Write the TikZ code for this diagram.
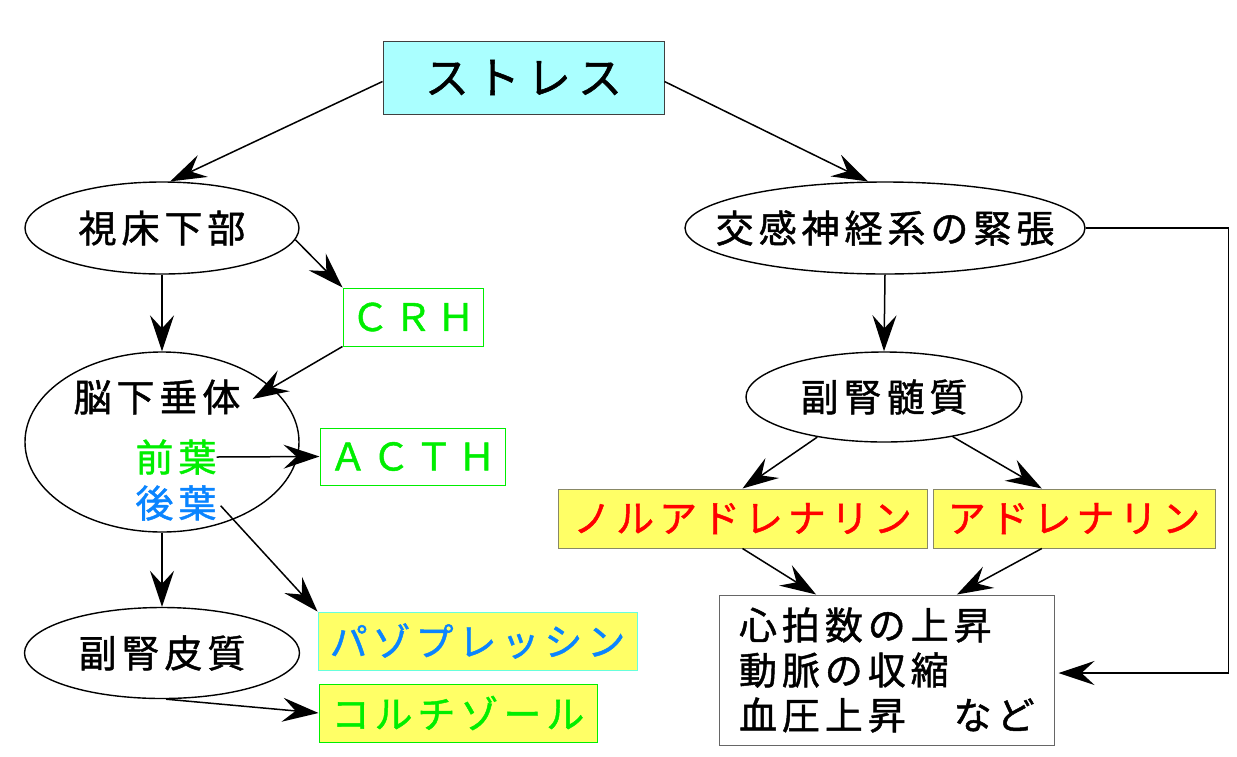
\documentclass[tikz,border=0pt]{standalone}
\usepackage{fontspec}
\usetikzlibrary{arrows.meta,shapes.geometric}
\newfontfamily\jp[LetterSpace=13,FakeBold=1.2]{Noto Sans CJK JP}
\newfontfamily\jpbig[LetterSpace=16,FakeBold=1.2]{Noto Sans CJK JP}
\definecolor{cyanfill}{HTML}{AAFFFF}
\definecolor{yel}{HTML}{FFFF66}
\definecolor{grn}{HTML}{00EE00}
\definecolor{blu}{HTML}{0A84FF}
\definecolor{rd}{HTML}{FF0000}
\definecolor{vasoborder}{HTML}{66FFDD}
\definecolor{norborder}{HTML}{888866}
\begin{document}
\begin{tikzpicture}[x=1pt,y=-1pt,
  arr/.style={-{Stealth[length=36pt,width=24pt,inset=13pt]}, line width=1.5pt},
  jtext/.style={font=\jp\fontsize{38}{45}\selectfont, inner sep=0pt},
  ell/.style={ellipse, draw, line width=1.4pt, inner sep=0pt, jtext},
  box/.style={rectangle, draw, line width=1pt, inner sep=0pt, jtext}
]
\useasboundingbox (0,0) rectangle (1237,756);

% nodes
\node[box, draw=black!75, fill=cyanfill, minimum width=281, minimum height=73,
      font=\jpbig\fontsize{44}{50}\selectfont] (stress) at (523.5,77.5) {ストレス};

\node[ell, minimum width=274, minimum height=92] (hypo) at (162,228) {\makebox[0pt]{視床下部}};
\node[box, draw=grn, text=grn, minimum width=140, minimum height=58] (crh) at (413,317) {ＣＲＨ};
\node[ell, minimum width=274, minimum height=180] (pit) at (162,442) {};
\node[jtext] (pitlabel) at (157,397) {脳下垂体};
\node[jtext, text=grn] (front) at (176,457) {前葉};
\node[jtext, text=blu] (back) at (176,503) {後葉};
\node[box, draw=grn, text=grn, minimum width=185, minimum height=57] (acth) at (412.5,456.5) {ＡＣＴＨ};
\node[ell, minimum width=275, minimum height=91] (cortex) at (162,653) {\makebox[0pt]{副腎皮質}};
\node[box, draw=vasoborder, fill=yel, text=blu, minimum width=319, minimum height=58] (vaso) at (477.5,641) {パゾプレッシン};
\node[box, draw=grn, fill=yel, text=grn, minimum width=278, minimum height=58] (cort) at (458,713) {コルチゾール};

\node[ell, minimum width=400, minimum height=92] (sym) at (885,228) {\makebox[0pt]{交感神経系の緊張}};
\node[ell, minimum width=276, minimum height=90] (med) at (884,397) {\makebox[0pt]{副腎髄質}};
\node[box, draw=norborder, fill=yel, text=rd, minimum width=369, minimum height=59] (nor) at (742.5,518.5) {ノルアドレナリン};
\node[box, draw=norborder, fill=yel, text=rd, minimum width=282, minimum height=59] (adr) at (1074,518.5) {アドレナリン};
\node[box, draw=black!60, minimum width=335, minimum height=150, text width=295, align=left] (heart) at (886.5,670)
  {心拍数の上昇\\動脈の収縮\\血圧上昇　など};

% connectors
\draw[arr] (stress.west) ++(0,4) coordinate (sw) (sw) -- (hypo.80);
\draw[arr] (stress.east) ++(0,4) coordinate (se) (se) -- (sym.110);
\draw[arr] (hypo.-5) -- (crh.north west);
\draw[arr] (hypo.south) -- (pit.north);
\draw[arr] (crh.south west) -- ([xshift=12pt,yshift=-2pt]pitlabel.east);
\draw[arr] (front.east) -- (acth.west);
\draw[arr] ([xshift=4pt]back.south east) ++(0,-15) coordinate (bk) (bk) -- (vaso.north west);
\draw[arr] (pit.south) -- (cortex.north);
\draw[arr] (cortex.-85) -- (cort.west);

\draw[arr] (sym.south) -- (med.north);
\draw[arr] (med.211) -- (nor.north);
\draw[arr] (med.-30) -- (adr.137);
\draw[arr] (nor.south) -- (heart.133);
\draw[arr] (adr.-137) -- (heart.47);
\draw[arr] (sym.east) -- ++(143,0) coordinate (rc) |- ([xshift=4pt,yshift=-3pt]heart.east);
\end{tikzpicture}
\end{document}
